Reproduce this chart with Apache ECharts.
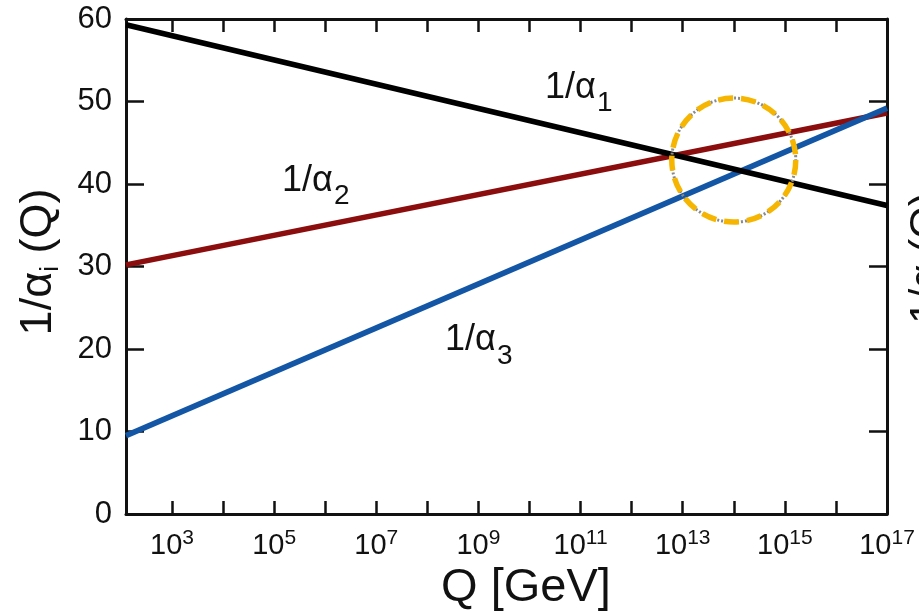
<!DOCTYPE html>
<html>
<head>
<meta charset="utf-8">
<script src="https://cdn.jsdelivr.net/npm/echarts@6/dist/echarts.min.js"></script>
<style>
html,body{margin:0;padding:0;background:#fff;}
#c{width:919px;height:613px;}
</style>
</head>
<body>
<div id="c"></div>
<script>
// log10(Q / GeV) at the two ends of the plotted range
var logQ = [2.1, 17];
// 1/alpha_i values read at those ends
var invAlpha1 = [59.3, 37.4];
var invAlpha2 = [30.2, 48.6];
var invAlpha3 = [9.5, 49.2];
// highlighted unification region (log10 Q, 1/alpha)
var circleCenter = [14.0, 42.9];
// axis ticks
var xTickExps = [3,4,5,6,7,8,9,10,11,12,13,14,15,16];
var xLabelExps = [3,5,7,9,11,13,15,17];
var yTicks = [0,10,20,30,40,50,60];

var FONT = "'Liberation Sans', Arial, sans-serif";
var AXC = '#111';

function pts(ys){ return logQ.map(function(x,i){ return [x, ys[i]]; }); }

var chart = echarts.init(document.getElementById('c'), null, {renderer:'canvas'});

var xBase = {
  type:'value', min:logQ[0], max:logQ[1],
  axisLine:{show:true, onZero:false, lineStyle:{color:AXC, width:3}},
  splitLine:{show:false},
  axisTick:{show:true, inside:true, length:13, customValues:xTickExps, lineStyle:{color:AXC, width:2.5}}
};
var yBase = {
  type:'value', min:0, max:60, interval:10,
  axisLine:{show:true, onZero:false, lineStyle:{color:AXC, width:3}},
  splitLine:{show:false},
  axisTick:{show:true, inside:true, length:18, lineStyle:{color:AXC, width:2.5}}
};

var option = {
  animation:false,
  backgroundColor:'#fff',
  grid:{left:126, right:32, top:19, bottom:99, containLabel:false},
  xAxis:[
    Object.assign({}, xBase, {
      position:'bottom',
      axisLabel:{
        show:true, margin:14, customValues:xLabelExps,
        formatter:function(v){ return '{b|10}{s|' + Math.round(v) + '}'; },
        rich:{
          b:{fontSize:29, fontFamily:FONT, color:'#111', lineHeight:32, verticalAlign:'bottom'},
          s:{fontSize:21, fontFamily:FONT, color:'#111', lineHeight:8, verticalAlign:'top'}
        }
      }
    }),
    Object.assign({}, xBase, {position:'top', axisLabel:{show:false}})
  ],
  yAxis:[
    Object.assign({}, yBase, {
      position:'left',
      axisLabel:{show:true, margin:14, fontSize:31, fontFamily:FONT, color:'#111',
        customValues:yTicks}
    }),
    Object.assign({}, yBase, {position:'right', axisLabel:{show:false}})
  ],
  series:[
    {type:'line', data:pts(invAlpha1), showSymbol:false, lineStyle:{color:'#000', width:5.5}, z:3},
    {type:'line', data:pts(invAlpha2), showSymbol:false, lineStyle:{color:'#8b0d0d', width:5.5}, z:2},
    {type:'line', data:pts(invAlpha3), showSymbol:false, lineStyle:{color:'#1456a6', width:5.5}, z:2}
  ],
  graphic:[
    // curve labels
    {type:'text', x:545, y:88, style:{text:'1/\u03b1', font:'36px '+FONT, fill:'#111', verticalAlign:'middle'}},
    {type:'text', x:597, y:103, style:{text:'1', font:'28px '+FONT, fill:'#111', verticalAlign:'middle'}},
    {type:'text', x:282, y:181, style:{text:'1/\u03b1', font:'36px '+FONT, fill:'#111', verticalAlign:'middle'}},
    {type:'text', x:334, y:196, style:{text:'2', font:'28px '+FONT, fill:'#111', verticalAlign:'middle'}},
    {type:'text', x:445, y:340, style:{text:'1/\u03b1', font:'36px '+FONT, fill:'#111', verticalAlign:'middle'}},
    {type:'text', x:497, y:356, style:{text:'3', font:'28px '+FONT, fill:'#111', verticalAlign:'middle'}},
    // axis titles
    {type:'text', x:526, y:588, style:{text:'Q [GeV]', font:'47px '+FONT, fill:'#111', align:'center', verticalAlign:'middle'}},
    {type:'text', x:40, y:262, rotation:Math.PI/2,
      style:{text:'{m|1/\u03b1}{i|i}{m| (Q)}', align:'center', verticalAlign:'middle',
        rich:{m:{font:'45px '+FONT, fill:'#111', lineHeight:48, verticalAlign:'top'},
              i:{font:'26px '+FONT, fill:'#111', lineHeight:18, verticalAlign:'bottom'}}}},
    // clipped title of the neighbouring panel
    {type:'text', x:927, y:258, rotation:Math.PI/2,
      style:{text:'1/\u03b1 (Q)', font:'42px '+FONT, fill:'#111', align:'center', verticalAlign:'middle'}}
  ]
};
chart.setOption(option);

// dashed highlight circle, centred through the chart's own axes
var c = chart.convertToPixel({gridIndex:0}, circleCenter);
chart.setOption({graphic:[
  {type:'circle', id:'ringGrey', z:10, shape:{cx:c[0], cy:c[1], r:62},
    style:{fill:'none', stroke:'#8a8a8a', lineWidth:3, lineDash:[2,2]}},
  {type:'circle', id:'ringGold', z:11, shape:{cx:c[0], cy:c[1], r:62},
    style:{fill:'none', stroke:'#f6b500', lineWidth:5.5, lineDash:[15,8]}}
]});
</script>
</body>
</html>
